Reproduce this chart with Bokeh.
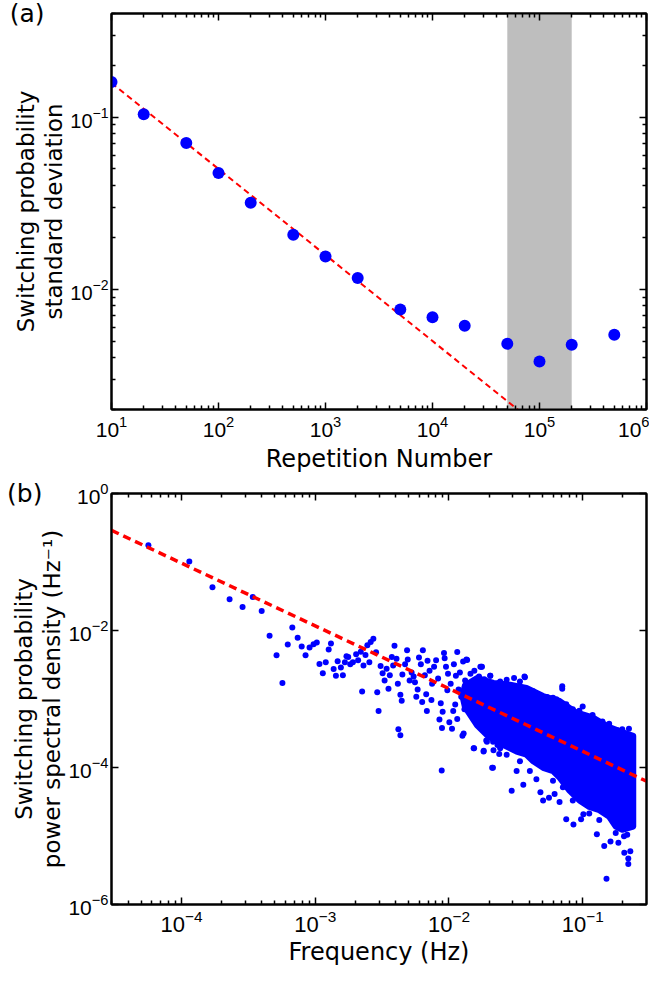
import numpy as np
from bokeh.plotting import figure
from bokeh.models import FixedTicker, LogAxis, BoxAnnotation, CustomJSTickFormatter, ColumnDataSource
from bokeh.layouts import column
from bokeh.embed import file_html
from bokeh.resources import INLINE

# ---------------- Panel (a) data ----------------
rep_number = [10, 20, 50, 100, 200, 500, 1000, 2000, 5000, 1e4, 2e4, 5e4, 1e5, 2e5, 5e5]
rep_std = [0.160, 0.104, 0.0707, 0.0473, 0.0318, 0.0207, 0.0155, 0.0116,
           0.00762, 0.00688, 0.00613, 0.00482, 0.00380, 0.00475, 0.00543]
fit_a_n = [10, 1e6]
fit_a_std = [0.158, 0.0005]
band_left = 5e4
band_right = 2e5
a_x_major = [1e1, 1e2, 1e3, 1e4, 1e5, 1e6]
a_y_major = [1e-2, 1e-1]

# ---------------- Panel (b) data (log10 values) ----------------
psd_log10_freq = [
    -4.247, -3.941, -3.768, -3.640, -3.543, -3.467, -3.400, -3.341, -3.289, -3.245,
    -3.205, -3.171, -3.131, -3.101, -3.072, -3.042, -3.012, -2.988, -2.968, -2.943,
    -2.921, -2.899, -2.882, -2.862, -2.845, -2.832, -2.808, -2.793, -2.778, -2.766,
    -2.753, -2.738, -2.718, -2.694, -2.679, -2.659, -2.649, -2.639, -2.624, -2.610,
    -2.595, -2.585, -2.565, -2.545, -2.536, -2.526, -2.511, -2.496, -2.481, -2.466,
    -2.452, -2.442, -2.427, -2.417, -2.407, -2.392, -2.382, -2.378, -2.363, -2.363,
    -2.353, -2.348, -2.328, -2.313, -2.308, -2.294, -2.279, -2.264, -2.254, -2.244,
    -2.234, -2.224, -2.210, -2.200, -2.195, -2.180, -2.170, -2.165, -2.160, -2.145,
    -2.131, -2.126, -2.111, -2.096, -2.081, -2.071, -2.061, -2.052, -2.047, -2.037,
    -2.032, -2.022, -2.012, -2.007, -1.997, -1.987, -1.977, -1.968, -1.963, -1.953,
    -1.948, -1.938, -1.928, -1.918, -1.908, -1.899, -1.894, -1.884, -1.879, -1.869,
    -1.859, -1.849, -1.839, -1.829, -1.824, -1.815, -1.810, -1.800, -1.790, -1.785,
    -1.775, -1.765, -1.760, -1.750, -1.741, -1.736, -1.726, -1.721, -1.711, -1.701,
    -1.691, -1.681, -1.671, -1.667, -1.657, -1.647, -1.637, -1.627, -1.617, -1.607,
    -1.597, -1.588, -1.578,
    -1.753, -1.691, -1.513, -1.432, -1.153, -1.153, -1.000, -0.654, -1.333, -1.267,
    -1.222, -1.123, -1.074, -0.926, -0.852, -0.741, -1.617, -1.568, -1.469, -1.370,
    -1.197, -1.025, -0.802, -0.704,
    -1.741, -1.671, -1.531, -1.444, -1.494, -1.395, -1.346, -1.316, -1.296, -1.252,
    -1.210, -1.173, -1.123, -1.069, -1.012, -0.995, -0.894, -0.839, -0.792, -0.733,
    -0.689, -0.659, -0.644, -0.659, -0.822, -0.667, -0.649, -1.716, -1.617, -1.568,
    -1.469, -1.222, -1.148, -1.074, -0.951, -0.876, -0.753, -0.691, -0.634, -0.634,
    -0.634, -0.634,
    -2.054, -1.677, -1.890, -1.812, -1.740, -1.670, -1.624, -1.938, -1.864, -1.758,
    -1.435,
]
psd_log10_power = [
    -0.757, -0.991, -1.367, -1.543, -1.657, -1.510, -1.715, -2.077, -2.362, -2.767,
    -2.205, -1.958, -2.105, -2.234, -2.362, -2.248, -2.200, -2.177, -2.490, -2.624,
    -2.462, -2.277, -2.191, -2.562, -2.662, -2.448, -2.539, -2.653, -2.462, -2.377,
    -2.386, -2.491, -2.462, -2.348, -2.433, -2.310, -2.891, -2.510, -2.357, -2.214,
    -2.462, -2.167, -2.119, -2.319, -2.900, -3.176, -2.519, -2.624, -2.729, -2.557,
    -2.852, -2.652, -2.386, -2.510, -2.224, -2.414, -2.776, -3.443, -3.529, -2.938,
    -3.024, -2.643, -2.491, -2.290, -2.424, -2.729, -2.614, -2.671, -2.757, -2.967,
    -2.862, -2.395, -2.491, -3.043, -2.290, -2.652, -2.929, -3.176, -2.443, -2.586,
    -3.014, -2.776, -2.529, -2.433, -2.700, -3.300, -3.062, -3.424, -3.186, -2.329,
    -2.405, -2.529, -2.871, -2.633, -3.338, -2.776, -3.433, -3.176, -2.491, -3.081,
    -2.662, -3.291, -2.862, -2.614, -2.967, -3.538, -2.452, -3.148, -2.729, -2.424,
    -2.795, -3.005, -2.633, -2.910, -3.224, -3.719, -2.586, -2.795, -3.110, -3.319,
    -2.671, -2.529, -2.890, -3.052, -3.252, -2.710, -3.414, -3.605, -2.957, -2.814,
    -2.662, -3.129, -3.338, -3.748, -2.900, -3.052, -3.671, -2.767, -3.195, -3.386,
    -2.967, -3.129, -2.862,
    -2.528, -2.662, -2.695, -2.681, -2.814, -2.852, -3.109, -3.433, -2.957, -2.971,
    -2.981, -3.076, -3.148, -3.233, -3.328, -3.457, -2.743, -2.719, -2.743, -2.886,
    -3.005, -3.171, -3.362, -3.443,
    -3.767, -4.005, -4.338, -4.252, -4.052, -4.052, -4.171, -4.362, -4.481, -4.443,
    -4.386, -4.505, -4.757, -4.833, -4.757, -4.681, -4.976, -5.147, -5.081, -5.100,
    -5.243, -5.328, -5.224, -5.409, -5.624, -4.981, -4.862, -3.624, -3.719, -3.814,
    -3.910, -4.195, -4.290, -4.481, -4.671, -4.767, -4.957, -5.005, -4.671, -4.195,
    -3.814, -3.624,
    -4.043, -4.004, -3.504, -3.719, -3.757, -3.624, -3.804, -2.314, -2.430, -2.529,
    -2.671,
]
# outline of the region where the dots merge into a solid mass (log10 values)
core_log10_freq = [
    -1.880, -1.790, -1.667, -1.543, -1.420, -1.296, -1.173, -1.049, -0.926, -0.802,
    -0.704, -0.622, -0.622, -0.704, -0.753, -0.802, -0.876, -0.951, -1.025, -1.099,
    -1.173, -1.222, -1.296, -1.370, -1.420, -1.494, -1.543, -1.642, -1.716, -1.790,
    -1.880, -1.900,
]
core_log10_power = [
    -2.800, -2.695, -2.766, -2.790, -2.838, -2.957, -3.028, -3.195, -3.267, -3.410,
    -3.481, -3.538, -4.862, -4.909, -4.862, -4.719, -4.624, -4.576, -4.481, -4.338,
    -4.147, -4.052, -4.005, -3.910, -3.814, -3.767, -3.719, -3.624, -3.528, -3.386,
    -3.120, -2.950,
]
fit_b_freq = [3e-5, 0.3]
fit_b_psd = [0.29, 6.3e-5]
b_x_major = [1e-4, 1e-3, 1e-2, 1e-1]
b_y_major = [1e0, 1e-2, 1e-4, 1e-6]

BLUE = "#0000ff"
RED = "#ff0000"
LABEL_FONT = "DejaVu Sans"
TICK_FONT = "Liberation Sans"


def minor_list(lo, hi):
    out = []
    for d in range(-7, 7):
        for k in range(2, 10):
            v = k * 10.0 ** d
            if lo <= v <= hi:
                out.append(v)
    return out


def style_axis(ax, ticker, fs, standoff):
    ax.ticker = ticker
    ax.axis_line_width = 2
    ax.axis_line_color = "black"
    ax.major_tick_in = 7
    ax.major_tick_out = 0
    ax.minor_tick_in = 4
    ax.minor_tick_out = 0
    ax.major_tick_line_width = 1.5
    ax.minor_tick_line_width = 1.5
    ax.major_tick_line_color = "black"
    ax.minor_tick_line_color = "black"
    ax.major_label_text_font = TICK_FONT
    ax.major_label_text_font_size = fs
    ax.major_label_text_color = "black"
    ax.major_label_standoff = standoff


def style_title(ax, text, size, standoff, line_height=1.0):
    ax.axis_label = text
    ax.axis_label_text_font = LABEL_FONT
    ax.axis_label_text_font_size = size
    ax.axis_label_text_font_style = "normal"
    ax.axis_label_text_color = "black"
    ax.axis_label_standoff = standoff
    ax.axis_label_text_line_height = line_height


def dummy_axis(ticker):
    ax = LogAxis(formatter=CustomJSTickFormatter(code="return ''"))
    style_axis(ax, ticker, "0px", 0)
    return ax


def panel_letter_axis(text):
    # an outer left axis without ticks, carrying only the panel letter at its top end
    ax = LogAxis(ticker=FixedTicker(ticks=[], minor_ticks=[]),
                 formatter=CustomJSTickFormatter(code="return ''"))
    ax.axis_line_color = None
    ax.major_tick_line_color = None
    ax.minor_tick_line_color = None
    ax.major_label_text_font_size = "0px"
    ax.major_label_standoff = 0
    ax.axis_label = text
    ax.axis_label_text_font = LABEL_FONT
    ax.axis_label_text_font_size = "25px"
    ax.axis_label_text_font_style = "normal"
    ax.axis_label_text_color = "black"
    ax.axis_label_orientation = "horizontal"
    ax.axis_label_align = "end"
    ax.axis_label_standoff = -35
    return ax


def base_fig(w, h, xr, yr, ml, mr, mt, mb):
    p = figure(width=w, height=h, x_axis_type="log", y_axis_type="log",
               x_range=xr, y_range=yr, output_backend="svg", toolbar_location=None,
               min_border_left=ml, min_border_right=mr, min_border_top=mt, min_border_bottom=mb)
    p.xgrid.visible = False
    p.ygrid.visible = False
    p.outline_line_color = "black"
    p.outline_line_width = 2
    p.background_fill_color = "white"
    p.border_fill_color = "white"
    return p


# ---------------- Panel (a) ----------------
p1 = base_fig(649, 478, (10, 1e6), (0.002, 0.4), 109, 3, 13, 69)
ax_a = FixedTicker(ticks=a_x_major, minor_ticks=minor_list(10, 1e6))
ay_a = FixedTicker(ticks=a_y_major, minor_ticks=minor_list(0.002, 0.4))
style_axis(p1.xaxis[0], ax_a, "21px", 6)
style_axis(p1.yaxis[0], ay_a, "20px", 3)
style_title(p1.xaxis[0], "Repetition Number", "24px", 5)
style_title(p1.yaxis[0], "Switching probability\nstandard deviation", "23px", 0, 1.1)
p1.add_layout(dummy_axis(ax_a), "above")
p1.add_layout(dummy_axis(ay_a), "right")
p1.add_layout(panel_letter_axis("(a)"), "left")

p1.add_layout(BoxAnnotation(left=band_left, right=band_right, fill_color="#bebebe",
                            fill_alpha=1.0, line_color=None, level="underlay"))
p1.line(fit_a_n, fit_a_std, line_color=RED, line_width=2, line_dash="6 4")
p1.scatter(rep_number, rep_std, size=12, fill_color=BLUE, line_color=None)

# ---------------- Panel (b) ----------------
p2 = base_fig(649, 490, (3e-5, 0.3), (1e-6, 1.0), 111, 2, 15, 64)
bx_t = FixedTicker(ticks=b_x_major, minor_ticks=minor_list(3e-5, 0.3))
by_t = FixedTicker(ticks=b_y_major, minor_ticks=[])
style_axis(p2.xaxis[0], bx_t, "22px", 5)
style_axis(p2.yaxis[0], by_t, "21px", 3)
style_title(p2.xaxis[0], "Frequency (Hz)", "24px", 3)
style_title(p2.yaxis[0], "Switching probability\npower spectral density (Hz\u207b\u00b9)", "23px", 0, 1.1)
p2.add_layout(dummy_axis(bx_t), "above")
p2.add_layout(dummy_axis(by_t), "right")
p2.add_layout(panel_letter_axis("(b)"), "left")

core_src = ColumnDataSource(dict(x=10.0 ** np.array(core_log10_freq),
                                 y=10.0 ** np.array(core_log10_power)))
p2.patch("x", "y", source=core_src, fill_color=BLUE, line_color=BLUE,
         line_width=6, line_join="round")
psd_src = ColumnDataSource(dict(x=10.0 ** np.array(psd_log10_freq),
                                y=10.0 ** np.array(psd_log10_power)))
p2.scatter("x", "y", source=psd_src, size=6, fill_color=BLUE, line_color=None)
p2.line(fit_b_freq, fit_b_psd, line_color=RED, line_width=3.5, line_dash="8 5")

layout = column(p1, p2)
open("out.html", "w").write(file_html(layout, INLINE))
